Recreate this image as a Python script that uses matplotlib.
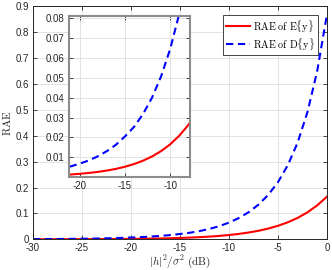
import numpy as np
import matplotlib
matplotlib.use("Agg")
import matplotlib.pyplot as plt

plt.rcParams['font.family'] = ['Liberation Sans', 'DejaVu Sans']
plt.rcParams['mathtext.fontset'] = 'cm'
plt.rcParams['axes.unicode_minus'] = False

# snr in dB
snr_db = [-30, -29, -28, -27, -26, -25, -24, -23, -22, -21, -20,
          -19, -18, -17, -16, -15, -14, -13, -12, -11, -10,
          -9, -8, -7, -6, -5, -4, -3, -2, -1, 0]
rae_mean = [0.00017, 0.00021, 0.00026, 0.00033, 0.00041, 0.00052, 0.00066, 0.00083, 0.00104, 0.00131, 0.00165,
            0.00208, 0.00262, 0.00329, 0.00414, 0.00522, 0.00657, 0.00827, 0.0104, 0.0131, 0.0165,
            0.0208, 0.0262, 0.0329, 0.0414, 0.0522, 0.0657, 0.0827, 0.1041, 0.1311, 0.1650]
rae_var = [0.0007, 0.0009, 0.0011, 0.0014, 0.0017, 0.0022, 0.0027, 0.0034, 0.0043, 0.0054, 0.0068,
           0.0084, 0.0105, 0.0131, 0.0163, 0.0205, 0.0253, 0.0318, 0.0401, 0.0508, 0.0645,
           0.0821, 0.1046, 0.1337, 0.1715, 0.2210, 0.2864, 0.3735, 0.4907, 0.6502, 0.870]

ax_col = '#262626'
grid_col = '#e3e3e3'

fig = plt.figure(figsize=(3.32, 2.70), dpi=100)
ax = fig.add_axes([0.0994, 0.1137, 0.8856, 0.863])
ax.plot(snr_db, rae_mean, color='#ff0000', lw=1.5, label=r'$\mathrm{RAE\ of\ E\{y\}}$')
ax.plot(snr_db, rae_var, color='#0000ff', lw=1.5, ls=(0, (3.5, 2.2)), label=r'$\mathrm{RAE\ of\ D\{y\}}$')
ax.set_xlim(-30, 0)
ax.set_ylim(0, 0.9)
ax.set_xticks(np.arange(-30, 1, 5))
ax.set_yticks(np.arange(0, 0.91, 0.1))
ax.set_yticklabels(['0'] + ['%.1f' % v for v in np.arange(0.1, 0.91, 0.1)])
ax.grid(True, color=grid_col, lw=0.7)
ax.set_axisbelow(True)
ax.tick_params(direction='in', length=3, width=0.6, labelsize=7, colors=ax_col,
               top=True, right=True, pad=3)
for s in ax.spines.values():
    s.set_color(ax_col)
    s.set_linewidth(0.7)
ax.set_xlabel(r'$|h|^2/\sigma^2\ \mathrm{(dB)}$', fontsize=8, color=ax_col, labelpad=-0.5)
ax.set_ylabel(r'$\mathrm{RAE}$', fontsize=8, color=ax_col, labelpad=2)
leg = ax.legend(loc='upper right', fontsize=7.3, fancybox=False, framealpha=1,
                edgecolor=ax_col, borderpad=0.3, labelspacing=0.2,
                handlelength=2.4, handletextpad=0.3, borderaxespad=0.9)
leg.get_frame().set_linewidth(0.6)

# inset zoom
ins = fig.add_axes([0.2078, 0.3456, 0.3645, 0.5951])
ins.plot(snr_db, rae_mean, color='#ff0000', lw=1.5)
ins.plot(snr_db, rae_var, color='#0000ff', lw=1.5, ls=(0, (3.5, 2.2)))
ins.set_xlim(-21.2, -7.8)
ins.set_ylim(0.0002, 0.0812)
ins.set_xticks([-20, -15, -10])
ins.set_yticks(np.arange(0.01, 0.081, 0.01))
ins.set_yticklabels(['%.2f' % v for v in np.arange(0.01, 0.081, 0.01)])
ins.grid(True, color=grid_col, lw=0.7)
ins.set_axisbelow(True)
ins.tick_params(direction='in', length=3, width=0.6, labelsize=7, colors=ax_col,
                top=True, right=True, pad=3)
for s in ins.spines.values():
    s.set_color('#8c8c8c')
    s.set_linewidth(1.5)

fig.savefig('out.png', dpi=100)
